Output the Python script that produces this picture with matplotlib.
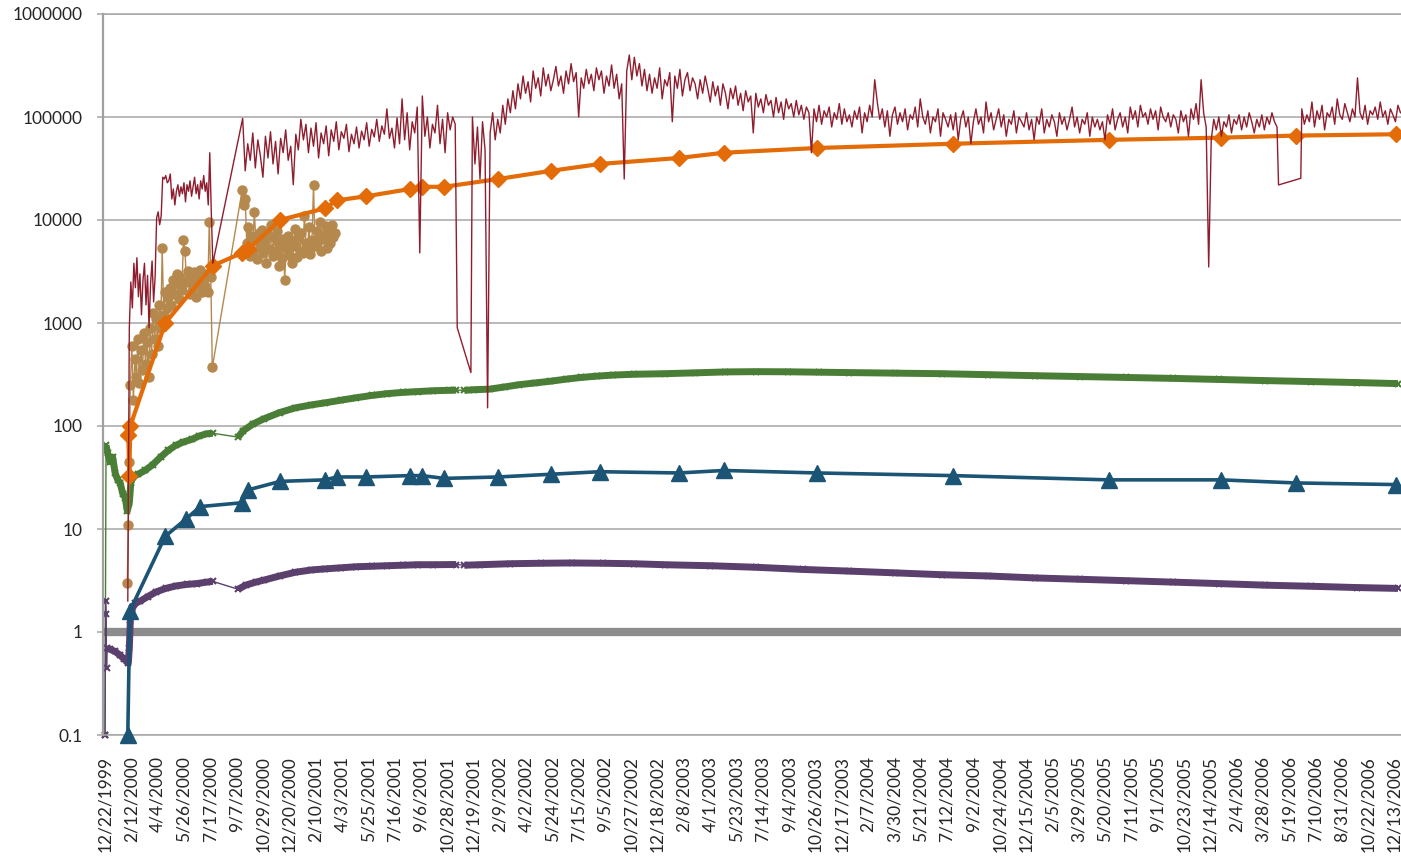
import numpy as np
import matplotlib.pyplot as plt
from matplotlib.ticker import NullLocator

plt.rcParams['font.family'] = ['Lato', 'DejaVu Sans']


def seg(start, step, vals):
    d = np.datetime64(start) + np.arange(len(vals)) * np.timedelta64(step, 'D')
    return d, np.array(vals, dtype=float)


def pts(dates, vals):
    return np.array(dates, dtype='datetime64[D]'), np.array(vals, dtype=float)


# ---- red (daily, noisy) ----
red_a = [2, 900, 2500, 1400, 3800, 2200, 4300, 1800, 3000, 1200,
         2600, 3800, 1500, 2900, 900, 2400, 4000, 1600, 2800, 10500,
         12000, 9000, 11000, 26000, 25000, 27000, 23000, 24000, 28000, 16000,
         20000, 14000, 19000, 22000, 17000, 21000, 18000, 23000, 15000, 22000,
         19000, 24000, 17000, 21000, 26000, 18000, 22000, 16000, 24000, 20000,
         27000, 19000, 23000, 14000, 45000, 12000, 3800]
red_b = [97000, 30000, 55000, 38000, 70000, 32000, 60000, 42000, 26000, 65000,
         40000, 72000, 35000, 58000, 28000, 62000, 45000, 75000, 38000, 52000,
         22000, 68000, 48000, 95000, 60000, 85000, 45000, 78000, 52000, 88000,
         40000, 70000, 55000, 82000, 42000, 75000, 58000, 90000, 48000, 72000,
         62000, 85000, 46000, 68000, 55000, 80000, 50000, 73000, 60000, 88000,
         52000, 76000, 64000, 95000, 58000, 82000, 68000, 120000, 62000, 78000,
         50000, 98000, 55000, 150000, 60000, 110000, 48000, 90000, 70000, 125000,
         4800, 160000, 65000, 100000, 50000, 85000, 70000, 130000, 55000, 95000,
         45000, 110000, 75000, 100000, 85000]
red_c_dates = ['2001-11-17', '2001-12-14']
red_c = [900, 330]
red_d = [100000, 35000, 80000, 25000, 90000, 48000, 150, 70000, 110000, 60000,
         95000, 70000, 130000, 85000, 150000, 110000, 180000, 120000, 210000, 150000,
         250000, 170000, 220000, 140000, 280000, 190000, 240000, 160000, 300000, 200000,
         260000, 180000, 230000, 310000, 200000, 250000, 170000, 280000, 210000, 330000,
         220000, 270000, 100000, 240000, 190000, 290000, 210000, 260000, 180000, 300000,
         230000, 280000, 170000, 250000, 200000, 320000, 190000, 260000, 150000, 210000,
         25000, 280000, 400000, 230000, 380000, 250000, 330000, 200000, 290000, 180000,
         260000, 170000, 240000, 190000, 300000, 150000, 230000, 200000, 270000, 90000,
         250000, 190000, 290000, 160000, 230000, 270000, 180000, 240000, 210000, 150000,
         230000, 170000, 250000, 190000, 140000, 220000, 160000, 200000, 130000, 210000,
         170000, 120000, 190000, 150000, 200000, 130000, 170000, 115000, 180000, 140000,
         160000, 70000, 170000, 125000, 150000, 110000, 165000, 130000, 145000, 100000,
         155000, 110000, 140000, 95000, 150000, 120000, 135000, 100000, 145000, 105000,
         130000, 95000, 125000, 110000, 45000, 120000, 90000, 130000, 85000, 115000,
         100000, 125000, 80000, 110000, 95000, 135000, 85000, 120000, 90000, 105000,
         80000, 115000, 95000, 125000, 70000, 110000, 90000, 130000, 100000, 230000,
         140000, 95000, 120000, 80000, 115000, 65000, 105000, 125000, 85000, 110000,
         90000, 120000, 75000, 105000, 95000, 125000, 80000, 150000, 100000, 85000,
         115000, 70000, 100000, 90000, 120000, 65000, 110000, 95000, 80000, 105000,
         75000, 110000, 60000, 95000, 115000, 80000, 100000, 55000, 90000, 120000,
         85000, 100000, 70000, 140000, 90000, 110000, 75000, 95000, 120000, 80000,
         105000, 65000, 95000, 85000, 115000, 70000, 100000, 90000, 80000, 110000,
         75000, 95000, 60000, 100000, 85000, 120000, 70000, 95000, 80000, 105000,
         90000, 65000, 110000, 85000, 100000, 75000, 95000, 125000, 80000, 100000,
         70000, 95000, 85000, 110000, 65000, 100000, 80000, 95000, 75000, 90000,
         60000, 105000, 85000, 120000, 75000, 95000, 110000, 80000, 100000, 70000,
         125000, 95000, 115000, 80000, 130000, 100000, 110000, 85000, 120000, 95000,
         115000, 75000, 125000, 100000, 90000, 110000, 80000, 105000, 95000, 70000,
         115000, 90000, 105000, 65000, 120000, 95000, 135000, 85000, 230000, 110000,
         80000, 3500, 60000, 95000, 75000, 100000, 65000, 90000, 80000, 105000,
         70000, 95000, 85000, 105000, 75000, 100000, 80000, 110000, 90000, 70000,
         95000, 80000, 105000, 75000, 100000, 85000, 110000, 90000, 80000]
red_e_dates = ['2006-04-28', '2006-06-11']
red_e = [21900, 25400]
red_f = [120000, 85000, 105000, 90000, 140000, 80000, 115000, 95000, 130000, 75000,
         110000, 100000, 125000, 85000, 150000, 105000, 95000, 135000, 110000, 90000,
         120000, 100000, 240000, 110000, 95000, 130000, 85000, 115000, 105000, 125000,
         95000, 140000, 100000, 115000, 85000, 120000, 105000, 90000, 130000, 110000]

# ---- tan (circles) ----
tan_start_dates = ['2000-02-04', '2000-02-06', '2000-02-08']
tan_start = [3, 11, 45]
tan_a = [250, 600, 180, 450, 300, 700, 260, 550, 350, 800,
         400, 650, 300, 900, 500, 1250, 700, 1100, 600, 1500,
         900, 5300, 1200, 2000, 1400, 1800, 2200, 1500, 2600, 1900,
         2400, 3000, 1700, 2800, 2100, 6400, 5000, 2500, 3200, 1900,
         2600, 2200, 3100, 1800, 2900, 2400, 3300, 2000, 2700, 2300,
         3000, 2000, 9500, 2800, 370]
tan_b = [19500, 14000, 16000, 6000, 8500, 4500, 7000, 5000, 12000, 6500,
         4200, 7500, 5500, 8000, 4800, 6200, 3800, 7200, 5200, 9000,
         4500, 6800, 5000, 7800, 3600, 5800, 4300, 6600, 2600, 5400,
         7000, 4600, 6200, 3800, 5600, 8200, 4400, 6800, 5000, 7400,
         4800, 11000, 6000, 5200, 8500, 4700, 6400, 22000, 5600, 7800,
         6200, 9500, 5000, 7200, 6600, 8800, 5400, 7600, 6000, 9000,
         6800, 7500]

# ---- orange (diamonds) ----
orange_dates = ['2000-02-06', '2000-02-08', '2000-02-10', '2000-04-19', '2000-07-22',
                '2000-09-18', '2000-09-30', '2000-12-02', '2001-03-01', '2001-03-24',
                '2001-05-21', '2001-08-16', '2001-09-08', '2001-10-22', '2002-02-06',
                '2002-05-21', '2002-08-26', '2003-01-29', '2003-04-28', '2003-10-29',
                '2004-07-23', '2005-05-27', '2006-01-04', '2006-06-01', '2006-12-16']
orange_vals = [82, 33, 100, 1000, 3600, 4800, 5200, 10000, 13000, 15500,
               17000, 20000, 21000, 21000, 25000, 30000, 35000, 40000, 45000, 50000,
               55000, 60000, 63000, 66000, 68000]

# ---- blue (triangles) ----
blue_dates = ['2000-02-05', '2000-02-09', '2000-04-19', '2000-05-30', '2000-06-27',
              '2000-09-18', '2000-09-30', '2000-12-02', '2001-03-01', '2001-03-24',
              '2001-05-21', '2001-08-16', '2001-09-08', '2001-10-22', '2002-02-06',
              '2002-05-21', '2002-08-26', '2003-01-29', '2003-04-28', '2003-10-29',
              '2004-07-23', '2005-05-27', '2006-01-04', '2006-06-01', '2006-12-16']
blue_vals = [0.1, 1.6, 8.5, 12.5, 16.5, 18, 24, 29, 30, 32,
             32, 33, 33, 31, 32, 34, 36, 35, 37, 35,
             33, 30, 30, 28, 27]

# ---- green (dense x markers) ----
green_dates = ['1999-12-22', '1999-12-24', '1999-12-27', '2000-01-01', '2000-01-06',
               '2000-01-11', '2000-01-16', '2000-01-21', '2000-01-26', '2000-01-31',
               '2000-02-04', '2000-02-08', '2000-02-11', '2000-02-15', '2000-02-25',
               '2000-03-10', '2000-03-25', '2000-04-10', '2000-04-25', '2000-05-10',
               '2000-05-25', '2000-06-10', '2000-06-25', '2000-07-10', '2000-07-22',
               '2000-09-10', '2000-09-20', '2000-10-10', '2000-11-01', '2000-12-01',
               '2001-01-01', '2001-02-01', '2001-03-01', '2001-04-01', '2001-05-01',
               '2001-06-01', '2001-07-01', '2001-08-01', '2001-09-01', '2001-10-01',
               '2001-11-01', '2001-11-15', '2001-12-01', '2001-12-20', '2002-01-20',
               '2002-02-20', '2002-03-20', '2002-04-20', '2002-05-20', '2002-06-20',
               '2002-07-20', '2002-08-20', '2002-09-20', '2002-11-01', '2003-01-01',
               '2003-03-01', '2003-05-01', '2003-07-01', '2003-09-01', '2003-11-01',
               '2004-01-01', '2004-04-01', '2004-07-01', '2004-10-01', '2005-01-01',
               '2005-04-01', '2005-07-01', '2005-10-01', '2006-01-01', '2006-04-01',
               '2006-07-01', '2006-10-01', '2006-12-20']
green_vals = [0.1, 65, 55, 45, 50, 35, 30, 28, 22, 20,
              15, 18, 28, 32, 34, 37, 42, 50, 58, 65,
              70, 74, 80, 84, 85,
              78, 90, 105, 118, 135, 150, 160, 168, 178, 188,
              198, 206, 212, 216, 220, 222, 223,
              222, 225, 228, 240, 252, 262, 272, 285, 296, 305,
              312, 318, 322, 328, 335, 337, 336, 333, 330, 326,
              322, 315, 308, 302, 296, 290, 283, 276, 270, 264, 258]
green_spans = [('1999-12-24', '2000-07-22'), ('2000-09-10', '2001-11-15'),
               ('2001-12-01', '2006-12-20')]

# ---- purple (dense x markers) ----
purple_dates = ['1999-12-22', '1999-12-23', '1999-12-24', '1999-12-25', '1999-12-26',
                '2000-01-01', '2000-01-10', '2000-01-20', '2000-01-28', '2000-02-03',
                '2000-02-06', '2000-02-08', '2000-02-10', '2000-02-14', '2000-02-20',
                '2000-03-01', '2000-03-15', '2000-04-01', '2000-04-20', '2000-05-10',
                '2000-06-01', '2000-06-20', '2000-07-10', '2000-07-22',
                '2000-09-10', '2000-09-25', '2000-10-15', '2000-11-01', '2000-12-01',
                '2001-01-01', '2001-02-01', '2001-03-01', '2001-04-01', '2001-05-01',
                '2001-06-01', '2001-07-01', '2001-08-01', '2001-09-01', '2001-10-01',
                '2001-11-15', '2001-12-01', '2002-01-01', '2002-03-01', '2002-05-01',
                '2002-07-01', '2002-09-01', '2002-11-01', '2003-01-01', '2003-04-01',
                '2003-07-01', '2003-10-01', '2004-01-01', '2004-04-01', '2004-07-01',
                '2004-10-01', '2005-01-01', '2005-04-01', '2005-07-01', '2005-10-01',
                '2006-01-01', '2006-04-01', '2006-07-01', '2006-10-01', '2006-12-20']
purple_vals = [0.1, 2.0, 1.5, 0.45, 0.7,
               0.68, 0.65, 0.6, 0.55, 0.52, 0.5, 0.7, 1.3, 1.7, 1.9,
               2.0, 2.2, 2.45, 2.65, 2.8, 2.9, 2.95, 3.05, 3.1,
               2.6, 2.85, 3.05, 3.2, 3.5, 3.8, 4.0, 4.1, 4.2, 4.3,
               4.35, 4.4, 4.45, 4.5, 4.5, 4.52,
               4.45, 4.5, 4.6, 4.65, 4.68, 4.65, 4.6, 4.5, 4.4,
               4.25, 4.05, 3.9, 3.75, 3.6, 3.5, 3.35, 3.25, 3.15, 3.05,
               2.95, 2.85, 2.78, 2.7, 2.65]
purple_spans = [('1999-12-26', '2000-07-22'), ('2000-09-10', '2001-11-15'),
                ('2001-12-01', '2006-12-20')]

y_ticks = [0.1, 1, 10, 100, 1000, 10000, 100000, 1000000]
y_labels = ['0.1', '1', '10', '100', '1000', '10000', '100000', '1000000']

# ---- assemble ----
parts = [seg('2000-02-05', 3, red_a), seg('2000-09-19', 5, red_b), pts(red_c_dates, red_c),
         seg('2001-12-17', 5, red_d), pts(red_e_dates, red_e), seg('2006-06-13', 5, red_f)]
red_x = np.concatenate([p[0] for p in parts])
red_y = np.concatenate([p[1] for p in parts])

tparts = [pts(tan_start_dates, tan_start), seg('2000-02-10', 3, tan_a), seg('2000-09-18', 3, tan_b)]
tan_x = np.concatenate([p[0] for p in tparts])
tan_y = np.concatenate([p[1] for p in tparts])

fig = plt.figure(figsize=(14.01, 8.58), dpi=100)
ax = fig.add_axes([103 / 1401, 1 - 735 / 858, 1 - 103 / 1401, (735 - 14) / 858])
ax.set_yscale('log')

ax.axhline(1, color='#8c8c8c', lw=6, zorder=1.5)


def dense(dates, vals, spans, color):
    d, v = pts(dates, vals)
    ax.plot(d, v, color=color, lw=1, marker='x', ms=5, mew=1.5, zorder=2, clip_on=False)
    for s, e in spans:
        m = (d >= np.datetime64(s)) & (d <= np.datetime64(e))
        ax.plot(d[m], v[m], color=color, lw=5, solid_capstyle='butt', zorder=2)


dense(green_dates, green_vals, green_spans, '#4a7d35')
dense(purple_dates, purple_vals, purple_spans, '#5b3f6d')

bx, by = pts(blue_dates, blue_vals)
ax.plot(bx, by, color='#1b5474', lw=2.6, marker='^', ms=11, zorder=3, clip_on=False)

ax.plot(tan_x, tan_y, color='#b5894e', lw=1, marker='o', ms=6.5, zorder=2.8)

ox, oy = pts(orange_dates, orange_vals)
ax.plot(ox, oy, color='#e36c09', lw=3, marker='D', ms=8, zorder=3.2)

ax.plot(red_x, red_y, color='#8f1d2e', lw=1.0, zorder=3.4)

ax.set_ylim(0.1, 1000000)
ax.set_xlim(np.datetime64('1999-12-18'), np.datetime64('2006-12-26'))

ax.set_yticks(y_ticks)
ax.set_yticklabels(y_labels)
ax.yaxis.set_minor_locator(NullLocator())
ax.yaxis.grid(True, color='#a6a6a6', lw=1.1)
ax.set_axisbelow(True)

tick_x = np.datetime64('1999-12-22') + np.arange(50) * np.timedelta64(52, 'D')
tick_lab = []
for t in tick_x:
    d = t.astype(object)
    tick_lab.append(f"{d.month}/{d.day}/{d.year}")
ax.set_xticks(tick_x)
ax.set_xticklabels(tick_lab, rotation=90)
ax.xaxis.set_minor_locator(NullLocator())

ax.tick_params(axis='y', length=4.5, width=1.1, color='#a6a6a6', labelsize=12.5,
               labelcolor='#262626', pad=10)
ax.tick_params(axis='x', length=0, labelsize=12.5, labelcolor='#262626', pad=15)

ax.spines['right'].set_visible(False)
for s in ['top', 'bottom']:
    ax.spines[s].set_color('#a6a6a6')
    ax.spines[s].set_linewidth(1.1)
ax.spines['left'].set_color('#a0a0a0')
ax.spines['left'].set_linewidth(1.6)

fig.savefig('out.png', dpi=100)
